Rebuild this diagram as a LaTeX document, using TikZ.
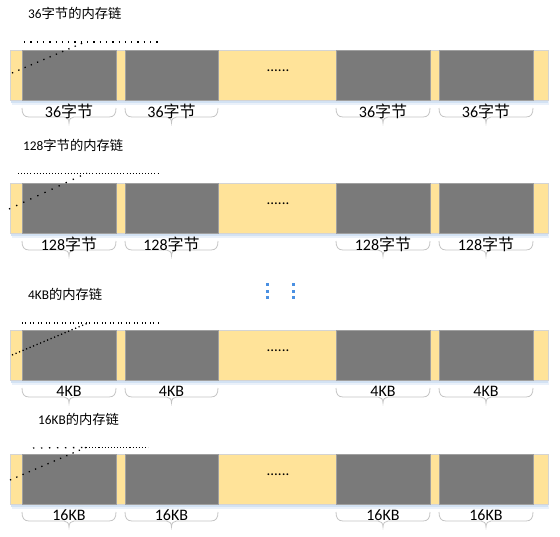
\documentclass[tikz,border=0pt]{standalone}
\usepackage{fontspec}
\setmainfont{Noto Sans CJK SC}
\newfontfamily\latf{Carlito}
\definecolor{segyellow}{HTML}{FFE399}
\definecolor{seggray}{HTML}{7A7A7A}
\definecolor{segedge}{HTML}{A0A0A0}
\definecolor{baredge}{HTML}{D4D4D4}
\definecolor{braceg}{HTML}{C4C4C4}
\definecolor{shadowa}{HTML}{D3E2F3}
\definecolor{shadowb}{HTML}{EAF1FA}
\definecolor{vdot}{HTML}{4A90E2}
\tikzset{
  barbox/.style={draw=baredge, fill=segyellow, line width=0.8pt, inner sep=0pt, minimum height=50pt, anchor=north west},
  grayseg/.style={draw=segedge, fill=seggray, line width=0.8pt, inner sep=0pt, minimum height=50pt, anchor=north west},
  ttl/.style={anchor=west, inner sep=0pt, font=\fontsize{13.3}{14}\selectfont},
  lbl/.style={inner sep=0pt, font=\fontsize{16}{17}\selectfont},
  brc/.style={draw=braceg, line width=0.8pt},
  ell/.style={inner sep=0pt, font=\latf\fontsize{15}{15}\selectfont},
  dotline/.style={line width=1.3pt, line cap=butt},
}
% #1 index, #2 top y, #3 label
\newcommand\memrow[3]{%
  \fill[shadowb] (12,#2+50) rectangle (549,#2+55);
  \fill[shadowa] (11,#2+50) rectangle (548,#2+52.5);
  \node[barbox, minimum width=538pt] (bar#1) at (10,#2) {};
  \node[grayseg, minimum width=94pt] (ga#1) at (22,#2) {};
  \node[grayseg, minimum width=93pt] (gb#1) at (125,#2) {};
  \node[grayseg, minimum width=94pt] (gc#1) at (336,#2) {};
  \node[grayseg, minimum width=94pt] (gd#1) at (439,#2) {};
  \node[ell] (el#1) at (278,#2+21) {......};
  \mybrace{22}{116}{69}{#2+58}
  \mybrace{125}{218}{171.5}{#2+58}
  \mybrace{336}{430}{383}{#2+58}
  \mybrace{439}{533}{486}{#2+58}
  \node[lbl] (la#1) at (69,#2+61) {#3};
  \node[lbl] (lb#1) at (171.5,#2+61) {#3};
  \node[lbl] (lc#1) at (383,#2+61) {#3};
  \node[lbl] (ld#1) at (486,#2+61) {#3};
}
% #1 x1, #2 x2, #3 xm, #4 y
\newcommand\mybrace[4]{%
  \draw[brc] (#1,#4) .. controls (#1,#4+6) and (#1+2,#4+9) .. (#1+7,#4+9)
    -- (#3-5,#4+9) .. controls (#3-2,#4+9) and (#3,#4+11) .. (#3,#4+15)
    .. controls (#3,#4+11) and (#3+2,#4+9) .. (#3+5,#4+9)
    -- (#2-7,#4+9) .. controls (#2-2,#4+9) and (#2,#4+6) .. (#2,#4);
}
\begin{document}
\begin{tikzpicture}[x=1pt,y=-1pt]
\useasboundingbox (0,0) rectangle (560,536);

% row 1
\node[ttl] (t1) at (28,13) {{\latf 36}字节的内存链};
\memrow{1}{50}{{\latf 36}字节}
\coordinate (h1a) at (24,42); \coordinate (h1b) at (161,42);
\coordinate (d1a) at (12,73); \coordinate (d1b) at (85,42);
\draw[dotline, dash pattern=on 1.3pt off 5pt] (h1a) -- (h1b);
\draw[dotline, dash pattern=on 1.3pt off 5.5pt] (d1a) -- (d1b);

% row 2
\node[ttl] (t2) at (23,145) {{\latf 128}字节的内存链};
\memrow{2}{183}{{\latf 128}字节}
\coordinate (h2a) at (18,173); \coordinate (h2b) at (158,173);
\coordinate (d2a) at (9,209); \coordinate (d2b) at (87,173);
\draw[dotline, line width=1pt, dash pattern=on 1pt off 2.1pt] (h2a) -- (h2b);
\draw[dotline, dash pattern=on 1.3pt off 6.5pt] (d2a) -- (d2b);

% vertical dots
\foreach \yy [count=\i] in {284,291,297}{
  \node[fill=vdot, inner sep=0pt, minimum size=3pt] (va\i) at (267,\yy) {};
  \node[fill=vdot, inner sep=0pt, minimum size=3pt] (vb\i) at (293,\yy) {};
}

% row 3
\node[ttl] (t3) at (28,294) {{\latf 4KB}的内存链};
\memrow{3}{330}{{\latf 4KB}}
\coordinate (h3a) at (22,323); \coordinate (h3b) at (160,323);
\coordinate (d3a) at (12,355); \coordinate (d3b) at (88,323);
\draw[dotline, line width=1.1pt, dash pattern=on 1.1pt off 1.6pt on 1.1pt off 4.2pt] (h3a) -- (h3b);
\draw[dotline, dash pattern=on 1.2pt off 2.6pt] (d3a) -- (d3b);

% row 4
\node[ttl] (t4) at (38,419) {{\latf 16KB}的内存链};
\memrow{4}{454}{{\latf 16KB}}
\coordinate (h4a) at (33,448); \coordinate (h4m) at (86,447.5); \coordinate (h4b) at (148,447.5);
\coordinate (d4a) at (10,480); \coordinate (d4b) at (87,447);
\draw[dotline, dash pattern=on 1.3pt off 6.7pt] (h4a) -- (h4m);
\draw[dotline, line width=1.1pt, dash pattern=on 1.1pt off 2pt] (h4m) -- (h4b);
\draw[dotline, dash pattern=on 1.3pt off 5.5pt] (d4a) -- (d4b);
\end{tikzpicture}
\end{document}
